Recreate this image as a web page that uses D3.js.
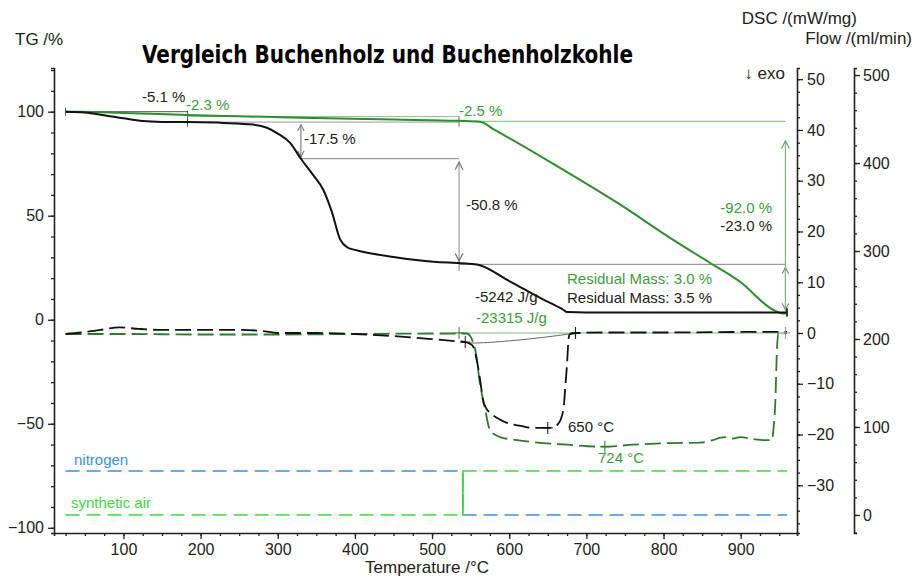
<!DOCTYPE html>
<html><head><meta charset="utf-8">
<script src="https://cdn.jsdelivr.net/npm/d3@7"></script>
<style>
body{margin:0;background:#fff;}
svg{display:block;font-family:"Liberation Sans",Arial,sans-serif;}
</style></head>
<body>
<svg id="chart" width="924" height="577"></svg>
<script>
// ---------- data ----------
const tempTGwood = [25, 50, 75, 100, 125, 150, 183, 230, 268, 286, 300, 316, 330, 345, 359, 370, 381, 391, 400, 416, 450, 502, 537, 558, 600, 640, 670, 675, 700, 800, 900, 960];
const tgWood     = [100, 99.6, 98.3, 96.8, 95.5, 95.1, 95.0, 94.6, 93.8, 92.3, 89.5, 85, 77.4, 70, 62.5, 52, 38.5, 34.6, 33.6, 32.2, 30.2, 27.9, 27.2, 26.6, 18.6, 10.5, 4.8, 3.7, 3.5, 3.5, 3.5, 3.5];

const tempTGchar = [25, 60, 100, 135, 183, 250, 330, 450, 535, 562, 580, 650, 744, 812, 860, 900, 942, 955, 960];
const tgChar     = [100, 99.8, 99.4, 99.0, 98.4, 97.8, 97.1, 96.2, 95.6, 95.2, 91.5, 76.5, 55.3, 38.5, 27.4, 18, 4.8, 3.0, 3.0];

const tempDSCwood = [25, 45, 70, 95, 120, 150, 200, 250, 280, 300, 350, 400, 450, 500, 530, 543, 550, 553, 556, 560, 563, 566, 570, 575, 585, 597, 615, 631, 650, 658, 664, 668, 671, 673, 675, 676.5, 678, 686, 720, 800, 900, 960];
const dscWood     = [-0.2, 0.1, 0.6, 1.1, 0.8, 0.6, 0.6, 0.6, 0.4, 0, 0, -0.2, -0.6, -1.2, -1.6, -1.8, -2.2, -2.6, -4, -7, -10, -13.2, -14.8, -15.7, -16.8, -17.7, -18.3, -18.7, -18.7, -18.5, -17.8, -16.5, -14, -10, -6, -2, -0.3, 0, 0.1, 0.1, 0.2, 0.2];

const tempDSCchar = [25, 100, 200, 300, 400, 500, 545, 549, 553, 556, 562, 569, 575, 588, 610, 631, 675, 722, 761, 805, 847, 864, 874, 882, 890, 899, 916, 929, 941, 942, 945, 947, 949, 955, 960];
const dscChar     = [-0.2, -0.2, -0.3, -0.3, -0.2, -0.1, -0.1, -0.5, -1.8, -3.3, -9.8, -15.2, -19.1, -20.5, -21.1, -21.5, -22, -22.4, -22, -21.7, -21.6, -21.1, -20.6, -20.5, -20.8, -20.5, -20.9, -21.1, -21.1, -19.7, -13.2, -3.3, 0, 0, 0];

const tempGas      = [25, 540, 540, 960];
const nitrogenFlow = [50, 50, 0, 0];
const airFlow      = [0, 0, 50, 50];

const xTicks    = [100, 200, 300, 400, 500, 600, 700, 800, 900];
const tgTicks   = [-100, -50, 0, 50, 100];
const dscTicks  = [-30, -20, -10, 0, 10, 20, 30, 40, 50];
const flowTicks = [0, 100, 200, 300, 400, 500];

// ---------- scales ----------
const svg = d3.select("#chart");
const x = d3.scaleLinear().domain([10, 973]).range([54, 797]);
const yTG = d3.scaleLinear().domain([-102.5, 121]).range([533, 68]);
const yDSC = d3.scaleLinear().domain([-39.4, 52.2]).range([533, 68]);
const yFlow = d3.scaleLinear().domain([-20.5, 508]).range([533, 68]);

const GREEN_TG = "#2f8c2f", GREEN_TXT = "#3e9c3e", GREEN_DSC = "#2c7a2c",
      GAS_GREEN = "#3fd83f", GAS_BLUE = "#3a8fe6", GRAY = "#9a9a9a", LGREEN = "#8fca8f";

// arrow markers
const defs = svg.append("defs");
function mk(id, color, orient) {
  defs.append("marker").attr("id", id).attr("viewBox", "0 0 10 10").attr("refX", 9).attr("refY", 5)
    .attr("markerWidth", 8).attr("markerHeight", 8).attr("orient", orient)
    .append("path").attr("d", "M1,1 L9,5 L1,9").attr("fill", "none").attr("stroke", color).attr("stroke-width", 1.3);
}
mk("ag", "#777", "auto-start-reverse");
mk("agr", "#6aaa6a", "auto-start-reverse");

// ---------- axes ----------
function range(a, b, s) { const r = []; for (let v = a; v <= b + 1e-9; v += s) r.push(+v.toFixed(3)); return r; }
const fnt = "16px";

function styleAxis(g) {
  g.select(".domain").attr("stroke", "#222").attr("stroke-width", 1.6);
  g.selectAll(".tick line").attr("stroke", "#222").attr("stroke-width", 1.3);
  g.selectAll(".tick text").attr("fill", "#222").style("font-size", fnt).style("font-family", "Liberation Sans, Arial, sans-serif");
}

// X
const gx = svg.append("g").attr("transform", "translate(0,533)");
gx.call(d3.axisBottom(x).tickValues(range(25, 950, 25)).tickSize(3).tickFormat(""));
gx.call(g => styleAxis(g));
const gx2 = svg.append("g").attr("transform", "translate(0,533)");
gx2.call(d3.axisBottom(x).tickValues(xTicks).tickSize(6).tickPadding(5).tickFormat(d3.format("d")));
gx2.call(styleAxis); gx2.select(".domain").remove();

// TG left
const gl = svg.append("g").attr("transform", "translate(54,0)");
gl.call(d3.axisLeft(yTG).tickValues(range(-100, 120, 10)).tickSize(3).tickFormat("")).call(styleAxis);
const gl2 = svg.append("g").attr("transform", "translate(54,0)");
gl2.call(d3.axisLeft(yTG).tickValues(tgTicks).tickSize(6).tickPadding(4).tickFormat(d3.format("d"))).call(styleAxis);
gl2.select(".domain").remove();

// DSC right
const gd = svg.append("g").attr("transform", "translate(797,0)");
gd.call(d3.axisRight(yDSC).tickValues(range(-37.5, 50, 2.5)).tickSize(3).tickFormat("")).call(styleAxis);
const gd2 = svg.append("g").attr("transform", "translate(797,0)");
gd2.call(d3.axisRight(yDSC).tickValues(dscTicks).tickSize(6).tickPadding(4).tickFormat(d3.format("d"))).call(styleAxis);
gd2.select(".domain").remove();

// Flow right
const gf = svg.append("g").attr("transform", "translate(854,0)");
gf.call(d3.axisRight(yFlow).tickValues(range(-20, 500, 20)).tickSize(3).tickFormat("")).call(styleAxis);
const gf2 = svg.append("g").attr("transform", "translate(854,0)");
gf2.call(d3.axisRight(yFlow).tickValues(flowTicks).tickSize(6).tickPadding(3).tickFormat(d3.format("d"))).call(styleAxis);
gf2.select(".domain").remove();

// ---------- titles ----------
function txt(s, xx, yy, color, anchor, size) {
  return svg.append("text").attr("x", xx).attr("y", yy).attr("fill", color || "#222")
    .attr("text-anchor", anchor || "start").style("font-size", size || "15px").text(s);
}
txt("TG /%", 15, 45, "#222", "start", "17px");
txt("DSC /(mW/mg)", 857, 24, "#222", "end", "17px");
txt("Flow /(ml/min)", 912, 44, "#222", "end", "17px");
txt("↓ exo", 785, 79, "#222", "end", "17px");
txt("Temperature /°C", 427, 573, "#222", "middle", "17px");
svg.append("text").attr("x", 142).attr("y", 63)
  .attr("textLength", 491).attr("lengthAdjust", "spacingAndGlyphs")
  .style("font-family", "'DejaVu Sans Condensed','Roboto Condensed','Liberation Sans Narrow','DejaVu Sans',sans-serif")
  .style("font-weight", "bold").style("font-size", "24px").attr("fill", "#000")
  .text("Vergleich Buchenholz und Buchenholzkohle");

// ---------- reference lines (TG) ----------
function seg(t1, v1, t2, v2, color, w, yS, marker) {
  const p = svg.append("line").attr("x1", x(t1)).attr("y1", (yS || yTG)(v1)).attr("x2", x(t2)).attr("y2", (yS || yTG)(v2))
    .attr("stroke", color).attr("stroke-width", w || 1);
  if (marker) p.attr("marker-start", `url(#${marker})`).attr("marker-end", `url(#${marker})`);
  return p;
}
seg(25, 100, 183, 100, "#555", 1);
seg(25, 98, 25, 102, "#555", 1);
seg(183, 92.8, 183, 100.5, "#555", 1);
seg(183, 97.7, 535, 97.7, LGREEN, 1);
seg(183, 95.0, 535, 95.0, GRAY, 1);
seg(535, 92.8, 535, 97.8, "#666", 1);
seg(330, 77.4, 535, 77.4, GRAY, 1.2);
seg(330, 93.8, 330, 78.2, "#666", 1, null, "ag");
seg(535, 75.8, 535, 28.2, GRAY, 1.2, null, "ag");
seg(535, 23.5, 535, 29.5, "#777", 1);
seg(535, 26.6, 958, 26.6, GRAY, 1.2);
seg(535, 95.3, 958, 95.3, LGREEN, 1.2);
seg(958, 25.2, 958, 4.8, GRAY, 1, null, "ag");
seg(958, 4.0, 958, 86, "#7ab97a", 1.2).attr("marker-end", "url(#agr)");
seg(960, 1.5, 960, 5.5, "#333", 2);

// DSC baselines
seg(535, 0, 958, 0, "#a8d0a8", 1.5, yDSC);
svg.append("path").attr("fill", "none").attr("stroke", "#666").attr("stroke-width", 1)
  .attr("d", d3.line().curve(d3.curveBasis).x(d => x(d[0])).y(d => yDSC(d[1]))([[543, -1.8], [552, -2.1], [600, -1.6], [650, -0.8], [686, 0]]));

// ---------- curves ----------
const lineTG = (ts, vs) => d3.line().curve(d3.curveMonotoneX).x((d, i) => x(ts[i])).y(d => yTG(d))(vs);
const lineDSC = (ts, vs) => d3.line().curve(d3.curveMonotoneX).x((d, i) => x(ts[i])).y(d => yDSC(d))(vs);
const lineFlow = (ts, vs) => d3.line().x((d, i) => x(ts[i])).y(d => yFlow(d))(vs);

svg.append("path").attr("d", lineFlow(tempGas, nitrogenFlow)).attr("fill", "none").attr("stroke", GAS_BLUE).attr("stroke-width", 1.5).attr("stroke-dasharray", "14,7");
svg.append("path").attr("d", lineFlow(tempGas, airFlow)).attr("fill", "none").attr("stroke", GAS_GREEN).attr("stroke-width", 1.5).attr("stroke-dasharray", "14,7");
seg(540, 0, 540, 50, GAS_GREEN, 1.5, yFlow);

svg.append("path").attr("d", lineDSC(tempDSCchar, dscChar)).attr("fill", "none").attr("stroke", GREEN_DSC).attr("stroke-width", 1.8).attr("stroke-dasharray", "16,6");
svg.append("path").attr("d", lineDSC(tempDSCwood, dscWood)).attr("fill", "none").attr("stroke", "#111").attr("stroke-width", 1.8).attr("stroke-dasharray", "16,6");

svg.append("path").attr("d", lineTG(tempTGchar, tgChar)).attr("fill", "none").attr("stroke", GREEN_TG).attr("stroke-width", 2);
svg.append("path").attr("d", lineTG(tempTGwood, tgWood)).attr("fill", "none").attr("stroke", "#111").attr("stroke-width", 2);

// cross markers on DSC
function cross(t, v, color) {
  const cx = x(t), cy = yDSC(v);
  svg.append("path").attr("d", `M${cx - 5},${cy}H${cx + 5}M${cx},${cy - 6}V${cy + 6}`).attr("stroke", color).attr("stroke-width", 1);
}
cross(535, 0, GREEN_DSC); cross(543, -1.8, "#111"); cross(686, 0, "#111");
cross(650, -18.7, "#111"); cross(724, -22.4, GREEN_DSC); cross(958, 0, "#999");

// ---------- labels ----------
txt("-5.1 %", 142, 102, "#222");
txt("-2.3 %", 186, 110, GREEN_TXT);
txt("-17.5 %", 304, 144, "#222");
txt("-2.5 %", 459, 116, GREEN_TXT);
txt("-50.8 %", 466, 210, "#222");
txt("-92.0 %", 772, 213, GREEN_TXT, "end");
txt("-23.0 %", 772, 231, "#222", "end");
txt("Residual Mass: 3.0 %", 567, 284, GREEN_TXT);
txt("Residual Mass: 3.5 %", 567, 303, "#222");
txt("-5242 J/g", 475, 302, "#222");
txt("-23315 J/g", 476, 323, GREEN_TXT);
txt("650 °C", 568, 432, "#222");
txt("724 °C", 598, 463, GREEN_TXT);
txt("nitrogen", 74, 465, GAS_BLUE);
txt("synthetic air", 71, 508, GAS_GREEN);
</script>
</body></html>
